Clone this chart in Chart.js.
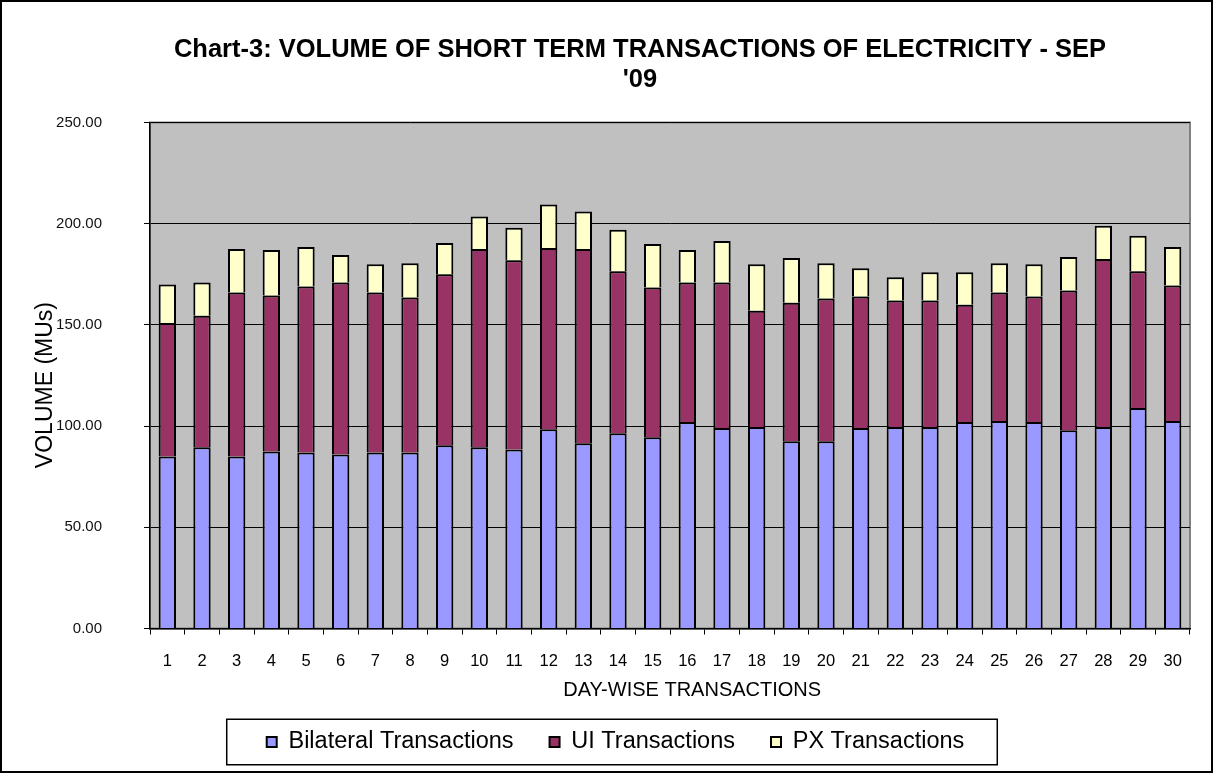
<!DOCTYPE html>
<html lang="en">

<head>
    <meta charset="UTF-8">
    <script src="https://cdn.jsdelivr.net/npm/chart.js"></script>
    <title>Short Term Transactions - Sep '09</title>
    <style>
        body { margin: 0; background: #fff; }
        .chart-container { position: relative; width: 1214px; height: 774px; }
    </style>
</head>

<body>
    <div class="chart-container">
        <canvas id="myChart"></canvas>
    </div>
    <script>
        const days = ['1', '2', '3', '4', '5', '6', '7', '8', '9', '10',
            '11', '12', '13', '14', '15', '16', '17', '18', '19', '20',
            '21', '22', '23', '24', '25', '26', '27', '28', '29', '30'];

        const bilateral = [85, 89.5, 85, 87.5, 87, 86, 87, 87, 90.5, 89.5,
            88.5, 98.5, 91.5, 96.5, 94.5, 102, 99, 99.5, 92.5, 92.5,
            99, 99.5, 99.5, 102, 102.5, 102, 98, 99.5, 109, 102.5];

        const ui = [66, 65, 81, 77, 82, 85, 79, 76.5, 84.5, 98,
            93.5, 89.5, 96, 80, 74, 69, 72, 57.5, 68.5, 70.5,
            65, 62.5, 62.5, 58, 63.5, 62, 69, 83, 67.5, 67];

        const px = [19, 16.5, 21.5, 22.5, 19.5, 13.5, 14, 17, 15.5, 16,
            16, 21.5, 18.5, 20.5, 21.5, 16, 20.5, 23, 22, 17.5,
            14, 11.5, 14, 16, 14.5, 16, 16.5, 16.5, 17.5, 19];

        const yTicks = [0, 50, 100, 150, 200, 250];

        const FONT = "'Liberation Sans', Arial, sans-serif";

        // grey plot area, outer frame and the box round the legend
        const frames = {
            id: 'frames',
            afterLayout(chart) {
                // title and legend are not centred on the same point in the original
                chart.titleBlock.left = 90;
                chart.legend.left = 41;
            },
            beforeDraw(chart) {
                const { ctx, chartArea: a, width, height } = chart;
                ctx.save();
                ctx.fillStyle = '#fff';
                ctx.fillRect(0, 0, width, height);
                ctx.fillStyle = '#c0c0c0';
                ctx.fillRect(a.left, a.top, a.right - a.left, a.bottom - a.top);
                ctx.strokeStyle = '#808080';
                ctx.lineWidth = 2;
                ctx.strokeRect(a.left, a.top, a.right - a.left, a.bottom - a.top);
                ctx.restore();
            },
            afterDraw(chart) {
                const { ctx, width, height } = chart;
                ctx.save();
                ctx.strokeStyle = '#000';
                ctx.lineWidth = 2;
                ctx.strokeRect(1, 1, width - 3, height - 3);
                const boxes = chart.legend.legendHitBoxes;
                if (boxes && boxes.length) {
                    const left = Math.min(...boxes.map(b => b.left)) - 40;
                    const right = Math.max(...boxes.map(b => b.left + b.width)) + 33;
                    const top = boxes[0].top - 11;
                    const bottom = boxes[0].top + boxes[0].height + 11;
                    ctx.lineWidth = 1.5;
                    ctx.strokeRect(left, top, right - left, bottom - top);
                }
                ctx.restore();
            }
        };

        const data = {
            labels: days,
            datasets: [{
                label: 'Bilateral Transactions',
                data: bilateral,
                backgroundColor: '#9999ff',
                borderColor: '#000',
                borderWidth: 2
            }, {
                label: 'UI Transactions',
                data: ui,
                backgroundColor: '#993366',
                borderColor: '#000',
                borderWidth: 2
            }, {
                label: 'PX Transactions',
                data: px,
                backgroundColor: '#ffffcc',
                borderColor: '#000',
                borderWidth: 2
            }]
        };

        const config = {
            type: 'bar',
            data: data,
            plugins: [frames],
            options: {
                responsive: true,
                maintainAspectRatio: false,
                animation: false,
                barPercentage: 0.5,
                categoryPercentage: 1,
                layout: {
                    padding: { top: 10, left: 10, right: 24, bottom: 10.25 }
                },
                plugins: {
                    title: {
                        display: true,
                        text: ["Chart-3: VOLUME OF SHORT TERM TRANSACTIONS OF ELECTRICITY - SEP", "'09"],
                        color: '#000',
                        font: { family: FONT, size: 25.5, weight: 'bold', lineHeight: 30 / 25.5 },
                        padding: { top: 25, bottom: 27.5 }
                    },
                    legend: {
                        position: 'bottom',
                        labels: {
                            color: '#000',
                            boxWidth: 10,
                            boxHeight: 10,
                            padding: 36,
                            font: { family: FONT, size: 23.5 }
                        }
                    },
                    tooltip: { enabled: false }
                },
                scales: {
                    x: {
                        stacked: true,
                        afterFit: (scale) => { scale.height = 65.75; },
                        grid: {
                            drawOnChartArea: false,
                            drawTicks: true,
                            tickLength: 6,
                            color: '#000'
                        },
                        border: { color: '#000', width: 1.5 },
                        ticks: {
                            color: '#000',
                            padding: 17,
                            maxRotation: 0,
                            font: { family: FONT, size: 16.5 }
                        },
                        title: {
                            display: true,
                            // leading spaces push the title right, as in the original
                            text: '        DAY-WISE TRANSACTIONS',
                            color: '#000',
                            font: { family: FONT, size: 20 },
                            padding: { top: 0, bottom: -7.75 }
                        }
                    },
                    y: {
                        stacked: true,
                        min: 0,
                        max: 250,
                        afterFit: (scale) => { scale.width = 140; },
                        afterBuildTicks: (scale) => {
                            scale.ticks = yTicks.map(v => ({ value: v }));
                        },
                        grid: {
                            color: '#000',
                            lineWidth: 1,
                            tickLength: 6
                        },
                        border: { color: '#000', width: 1.5 },
                        ticks: {
                            color: '#111',
                            padding: 42,
                            font: { family: FONT, size: 15 },
                            callback: (v) => Number(v).toFixed(2)
                        },
                        title: {
                            display: true,
                            text: 'VOLUME (MUs)   ',
                            color: '#000',
                            font: { family: FONT, size: 23 },
                            padding: { top: 22, bottom: 0 }
                        }
                    }
                }
            }
        };

        const myChart = new Chart(
            document.getElementById('myChart'),
            config
        );
    </script>
</body>

</html>
